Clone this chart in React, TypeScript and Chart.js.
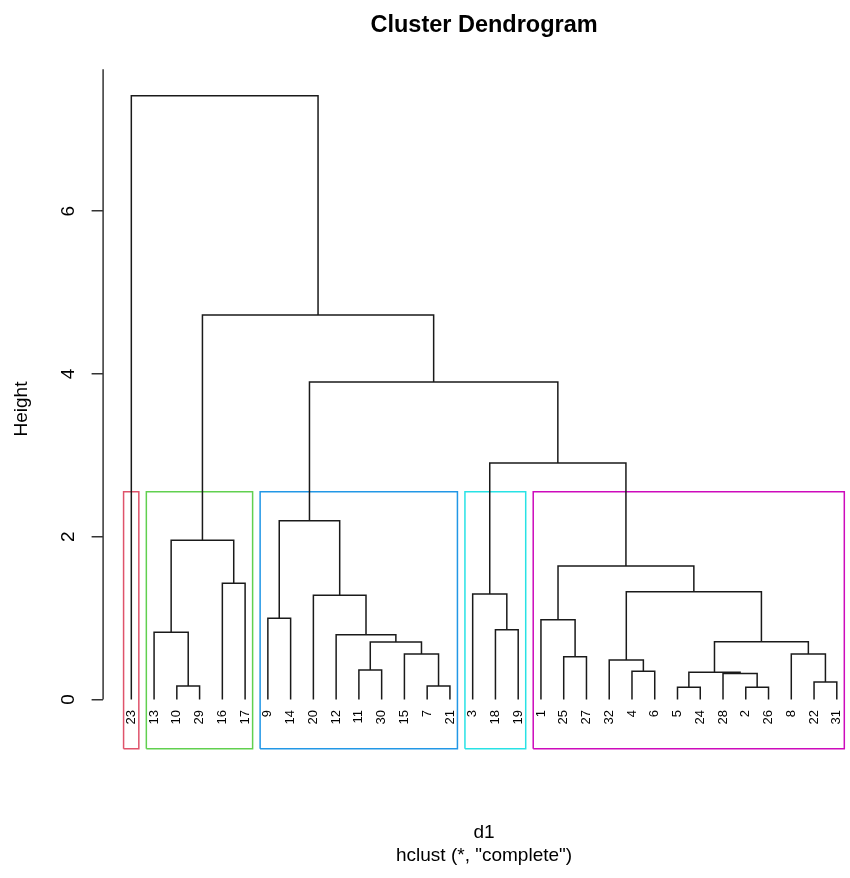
import React, { useEffect, useRef } from "react";
import { Chart, registerables } from "chart.js";

Chart.register(...registerables);

// ---- data ----
const leafOrder = [23, 13, 10, 29, 16, 17, 9, 14, 20, 12, 11, 30, 15, 7, 21, 3, 18, 19, 1, 25, 27, 32, 4, 6, 5, 24, 28, 2, 26, 8, 22, 31];
// R-style merge matrix: negative = leaf (observation id), positive = earlier merge (1-based)
const mergeLeft = [-5, -2, -10, -7, -22, -28, 1, -4, -11, -32, -25, -15, -8, 7, 9, -12, -13, -18, -1, -9, -20, -3, 10, -16, 19, 17, 20, 22, 27, 26, -23];
const mergeRight = [-24, -26, -29, -21, -31, 2, 6, -6, -30, 8, -27, 4, 5, 13, 12, 15, 3, -19, 11, -14, 16, 18, 14, -17, 23, 24, 21, 25, 28, 29, 30];
const mergeHeight = [0.15, 0.15, 0.166, 0.166, 0.215, 0.32, 0.334, 0.347, 0.362, 0.485, 0.526, 0.559, 0.56, 0.71, 0.707, 0.797, 0.826, 0.858, 0.98, 0.998, 1.28, 1.296, 1.325, 1.428, 1.64, 1.956, 2.197, 2.906, 3.9, 4.725, 7.42];
const yTickValues = [0, 2, 4, 6];
const clusterFirst = [1, 2, 7, 16, 19];
const clusterLast = [1, 6, 15, 18, 32];
const clusterColors = ["#DF536B", "#61D04F", "#2297E6", "#28E2E5", "#CD0BBC"];
const titleText = "Cluster Dendrogram";
const xLabel = "d1";
const subLabel = 'hclust (*, "complete")';
const yLabel = "Height";

const X_MIN = -0.24;
const X_MAX = 32.58;
const Y_MIN = -0.6046;
const Y_MAX = 7.744;
const FONT = '"Liberation Sans", Arial, Helvetica, sans-serif';
const LINE = "#1a1a1a";

function buildDatasets() {
  const leafPos = new Map<number, number>();
  leafOrder.forEach((l, i) => leafPos.set(l, i + 1));
  const nodeX: number[] = [];
  const cx = (c: number) => (c < 0 ? (leafPos.get(-c) as number) : nodeX[c - 1]);
  const ch = (c: number) => (c < 0 ? 0 : mergeHeight[c - 1]);
  mergeLeft.forEach((a, i) => {
    nodeX[i] = (cx(a) + cx(mergeRight[i])) / 2;
  });
  const sets: any[] = mergeLeft.map((a, i) => {
    const b = mergeRight[i];
    const h = mergeHeight[i];
    return {
      data: [
        { x: cx(a), y: ch(a) },
        { x: cx(a), y: h },
        { x: cx(b), y: h },
        { x: cx(b), y: ch(b) },
      ],
      borderColor: LINE,
      borderWidth: 1.5,
      showLine: true,
      pointRadius: 0,
      pointHoverRadius: 0,
      fill: false,
      tension: 0,
      clip: false,
    };
  });
  const desc = [...mergeHeight].sort((p, q) => q - p);
  const k = clusterFirst.length;
  const cut = (desc[k - 2] + desc[k - 1]) / 2;
  clusterFirst.forEach((f, i) => {
    const l = clusterLast[i];
    const x0 = f - 0.34;
    const x1 = l + 0.33;
    sets.push({
      data: [
        { x: x0, y: Y_MIN },
        { x: x0, y: cut },
        { x: x1, y: cut },
        { x: x1, y: Y_MIN },
        { x: x0, y: Y_MIN },
      ],
      borderColor: clusterColors[i],
      borderWidth: 1.5,
      showLine: true,
      pointRadius: 0,
      pointHoverRadius: 0,
      fill: false,
      tension: 0,
      clip: false,
    });
  });
  return sets;
}

const annotPlugin = {
  id: "annot",
  afterDraw(chart: any) {
    const { ctx, chartArea, scales } = chart;
    const x = scales.x;
    const y = scales.y;
    ctx.save();
    // y axis line from 0 to top of plot region
    ctx.strokeStyle = "#333";
    ctx.lineWidth = 1.5;
    ctx.beginPath();
    ctx.moveTo(chartArea.left, y.getPixelForValue(0));
    ctx.lineTo(chartArea.left, chartArea.top);
    ctx.stroke();
    // leaf labels
    ctx.fillStyle = "#000";
    ctx.font = `13px ${FONT}`;
    ctx.textAlign = "right";
    ctx.textBaseline = "middle";
    const ly = y.getPixelForValue(0) + 10.5;
    leafOrder.forEach((l, i) => {
      const px = x.getPixelForValue(i + 1);
      ctx.save();
      ctx.translate(px, ly);
      ctx.rotate(-Math.PI / 2);
      ctx.fillText(String(l), 0, 0);
      ctx.restore();
    });
    // titles
    const mid = x.getPixelForValue((1 + leafOrder.length) / 2);
    ctx.textAlign = "center";
    ctx.textBaseline = "alphabetic";
    ctx.font = `bold 23.5px ${FONT}`;
    ctx.fillText(titleText, mid, 31.7);
    ctx.font = `19px ${FONT}`;
    ctx.fillText(xLabel, mid, 838);
    ctx.fillText(subLabel, mid, 861);
    ctx.restore();
  },
};

export default function App() {
  const ref = useRef<HTMLCanvasElement | null>(null);
  useEffect(() => {
    document.body.style.margin = "0";
    if (!ref.current) return;
    const chart = new Chart(ref.current, {
      type: "scatter",
      data: { datasets: buildDatasets() },
      options: {
        animation: false,
        responsive: false,
        events: [],
        layout: { padding: { left: 0, right: 0, top: 69.3, bottom: 129.3 } },
        plugins: {
          legend: { display: false },
          tooltip: { enabled: false },
          title: { display: false },
        },
        scales: {
          x: { type: "linear", min: X_MIN, max: X_MAX, display: false },
          y: {
            type: "linear",
            min: Y_MIN,
            max: Y_MAX,
            afterBuildTicks: (s: any) => {
              s.ticks = yTickValues.map((v) => ({ value: v }));
            },
            afterFit: (s: any) => {
              s.width = 103.1;
            },
            border: { display: false },
            grid: {
              drawOnChartArea: false,
              drawTicks: true,
              tickLength: 11.5,
              color: "#333",
              lineWidth: 1.5,
            },
            ticks: {
              autoSkip: false,
              minRotation: 90,
              maxRotation: 90,
              crossAlign: "center",
              padding: 18,
              color: "#000",
              font: { family: FONT, size: 19 },
              callback: (v: any) => String(v),
            },
            title: {
              display: true,
              text: yLabel,
              color: "#000",
              font: { family: FONT, size: 19, lineHeight: 1.2 },
              padding: { top: 10.6, bottom: 0 },
            },
          },
        },
      },
      plugins: [annotPlugin],
    } as any);
    return () => chart.destroy();
  }, []);
  return (
    <div style={{ width: 850, height: 878 }}>
      <canvas ref={ref} width={850} height={878} style={{ display: "block" }} />
    </div>
  );
}
